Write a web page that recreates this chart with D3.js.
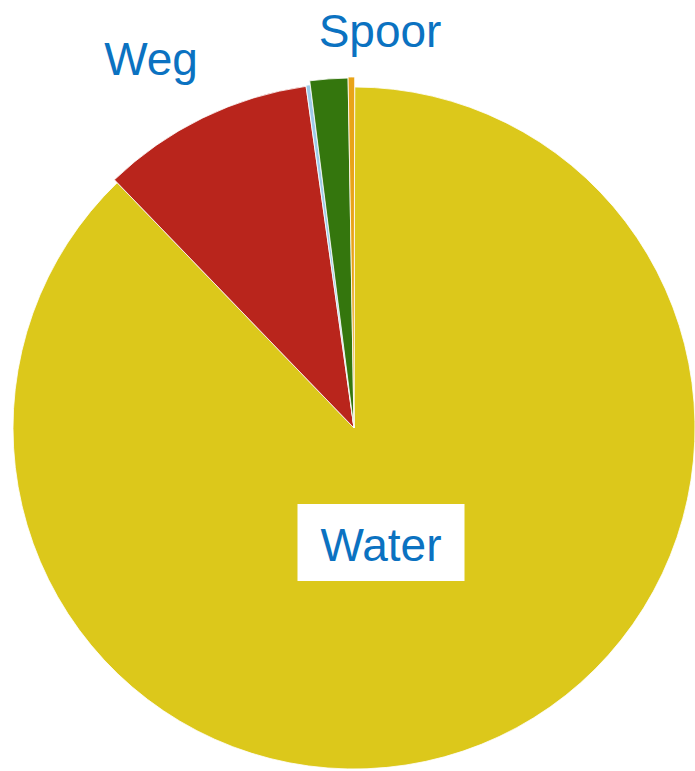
<!DOCTYPE html>
<html>
<head>
<meta charset="utf-8">
<script src="https://cdn.jsdelivr.net/npm/d3@7"></script>
<style>
  body { margin: 0; background: #fff; }
  svg { display: block; }
</style>
</head>
<body>
<svg width="695" height="771"></svg>
<script>
// transport share per mode (%), clockwise from 12 o'clock
var modes = ["Water", "Weg", "Lucht", "Spoor", "Buis"];
var shares = [87.75, 10.0, 0.2, 1.75, 0.3];
var labelled = ["Water", "Weg", "Spoor"];

var colors = ["#dcc81b", "#b9251c", "#9dcbe8", "#34760d", "#e9a418"];
// the thin slices stick out a little further than the big one
var radii = [341, 345, 346, 350, 351];

var svg = d3.select("svg"),
    cx = 354, cy = 428,
    g = svg.append("g").attr("transform", "translate(" + cx + "," + cy + ")");

var data = modes.map(function(m, i) { return {mode: m, value: shares[i], i: i}; });

var pie = d3.pie()
    .sort(null)
    .value(function(d) { return d.value; })
    .startAngle(0.002)
    .endAngle(0.002 + 2 * Math.PI);

var arcs = pie(data);

g.selectAll("path")
    .data(arcs)
  .enter().append("path")
    .attr("d", function(d) {
      return d3.arc().innerRadius(0).outerRadius(radii[d.data.i])(d);
    })
    .attr("fill", function(d) { return colors[d.data.i]; })
    .attr("stroke", "#fff")
    .attr("stroke-width", 0.8)
    .attr("stroke-linejoin", "round");

// label spots, relative to the pie centre
var labelPos = {
  "Water": [27, 133],
  "Weg": [-203, -353],
  "Spoor": [26, -381]
};

var labels = g.append("g")
    .attr("font-family", "'Liberation Sans', Arial, sans-serif")
    .attr("font-size", 46)
    .attr("text-anchor", "middle")
  .selectAll("g")
  .data(arcs.filter(function(d) { return labelled.indexOf(d.data.mode) >= 0; }))
  .enter().append("g")
    .attr("transform", function(d) {
      var p = labelPos[d.data.mode];
      return "translate(" + p[0] + "," + p[1] + ")";
    });

labels.filter(function(d) { return d.data.mode === "Water"; })
  .append("rect")
    .attr("x", -83.5)
    .attr("y", -57)
    .attr("width", 167)
    .attr("height", 77)
    .attr("fill", "#fff");

labels.append("text")
    .attr("fill", "#0b72c1")
    .text(function(d) { return d.data.mode; });
</script>
</body>
</html>
